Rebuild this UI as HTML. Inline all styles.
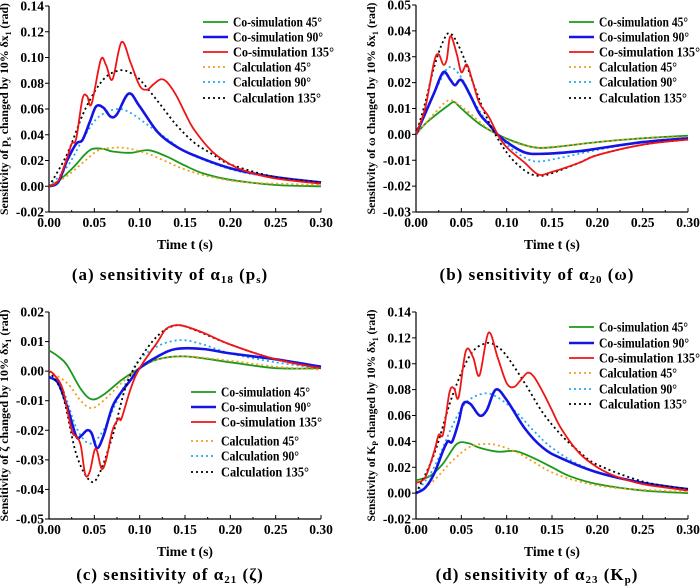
<!DOCTYPE html>
<html><head><meta charset="utf-8"><style>
body{margin:0;background:#fff;width:700px;height:588px;overflow:hidden}
svg{display:block;font-family:"Liberation Serif",serif;font-weight:bold}
</style></head><body>
<svg id="s" width="700" height="588" viewBox="0 0 700 588"></svg>
<script>
const S=document.getElementById('s');let out='';
const C={g:'#1a9a1a',o:'#f0a020',b:'#1414e6',c:'#28a8f0',r:'#f01414',k:'#000'};
function path(pts,X,Y){let p=pts.map(a=>[X(a[0]),Y(a[1])]);let d='M'+p[0][0].toFixed(1)+' '+p[0][1].toFixed(1);
for(let i=0;i<p.length-1;i++){const p0=p[i-1]||p[i],p1=p[i],p2=p[i+1],p3=p[i+2]||p2;
const c1=[p1[0]+(p2[0]-p0[0])/6,p1[1]+(p2[1]-p0[1])/6],c2=[p2[0]-(p3[0]-p1[0])/6,p2[1]-(p3[1]-p1[1])/6];
d+=`C${c1[0].toFixed(1)} ${c1[1].toFixed(1)} ${c2[0].toFixed(1)} ${c2[1].toFixed(1)} ${p2[0].toFixed(1)} ${p2[1].toFixed(1)}`;}return d;}
function panel(P){const {x0,x1,y0,y1,ymin,ymax,ystep}=P;
const X=t=>x0+(x1-x0)*t/0.3,Y=v=>y1-(y1-y0)*(v-ymin)/(ymax-ymin);
out+=`<line x1="${x0}" y1="${y0}" x2="${x0}" y2="${y1}" stroke="#000" stroke-width="1.2"/><line x1="${x0}" y1="${y1}" x2="${x1}" y2="${y1}" stroke="#000" stroke-width="1.2"/>`;
for(let v=ymin;v<=ymax+1e-9;v+=ystep){const y=Y(v);out+=`<line x1="${x0-4}" y1="${y}" x2="${x0}" y2="${y}" stroke="#000"/><text x="${x0-5}" y="${y+4.5}" font-size="13.5" text-anchor="end">${v.toFixed(2).replace('-0.00','0.00')}</text>`;}
for(let i=0;i<=12;i++){const x=X(i*0.025);out+=`<line x1="${x}" y1="${y1}" x2="${x}" y2="${y1-(i%2?2:4)}" stroke="#000"/>`;if(i%2==0)out+=`<text x="${x}" y="${y1+15}" font-size="13.5" text-anchor="middle">${(i*0.025).toFixed(2)}</text>`;}
out+=`<text x="${(x0+x1)/2}" y="${y1+37}" font-size="14" text-anchor="middle" textLength="56" lengthAdjust="spacingAndGlyphs">Time t (s)</text>`;
out+=`<text transform="translate(${x0-41},${(y0+y1)/2}) rotate(-90)" font-size="12" text-anchor="middle" textLength="212" lengthAdjust="spacingAndGlyphs">${P.yl}</text>`;
out+=`<text x="${P.cx}" y="${P.capy}" font-size="17" letter-spacing="1" text-anchor="middle">${P.cap}</text>`;
for(const [k,pts] of P.series){const dotted=(k=='o'||k=='c'||k=='k');
out+=`<path d="${path(pts,X,Y)}" fill="none" stroke="${C[k]}" stroke-width="${k=='b'?2.6:1.8}" ${dotted?'stroke-dasharray="2 3"':''}/>`;}
const names=[['g','Co-simulation 45°',89],['b','Co-simulation 90°',90],['r','Co-simulation 135°',101],['o','Calculation 45°',78],['c','Calculation 90°',78],['k','Calculation 135°',88]];
names.forEach((n,i)=>{const y=P.ly[i];const dt=n[0]=='o'||n[0]=='c'||n[0]=='k';
out+=`<line x1="${P.lx}" y1="${y}" x2="${P.lx+25}" y2="${y}" stroke="${C[n[0]]}" stroke-width="${n[0]=='b'?2.6:1.8}" ${dt?'stroke-dasharray="2 3"':''}/><text x="${P.lx+30}" y="${y+4.5}" font-size="14" textLength="${n[2]}" lengthAdjust="spacingAndGlyphs">${n[1]}</text>`;});}
const L1=[22,37,52,67,82,98];
panel({x0:49,x1:321,y0:6,y1:212,ymin:-0.02,ymax:0.14,ystep:0.02,lx:203,ly:L1,cx:170,capy:280,
yl:'Sensitivity of p<tspan font-size="8" dy="3">s</tspan><tspan dy="-3"> changed by 10%  δx</tspan><tspan font-size="8" dy="3">1</tspan><tspan dy="-3"> (rad)</tspan>',
cap:'(a) sensitivity of α<tspan font-size="11" dy="3">18</tspan><tspan dy="-3">  (p</tspan><tspan font-size="11" dy="3">s</tspan><tspan dy="-3">)</tspan>',
series:[['g',[[0,0],[0.01,0.004],[0.02,0.01],[0.03,0.017],[0.04,0.025],[0.048,0.029],[0.06,0.029],[0.07,0.027],[0.09,0.026],[0.11,0.028],[0.13,0.023],[0.15,0.016],[0.17,0.01],[0.2,0.005],[0.25,0.001],[0.3,0]]],
['o',[[0,0],[0.02,0.008],[0.04,0.02],[0.055,0.028],[0.075,0.030],[0.09,0.029],[0.11,0.025],[0.13,0.019],[0.15,0.013],[0.18,0.007],[0.22,0.003],[0.3,0.001]]],
['c',[[0,0],[0.02,0.015],[0.04,0.04],[0.055,0.054],[0.075,0.060],[0.09,0.057],[0.11,0.047],[0.13,0.037],[0.15,0.027],[0.18,0.018],[0.22,0.01],[0.3,0.002]]],
['b',[[0,0],[0.01,0.003],[0.02,0.02],[0.03,0.033],[0.037,0.036],[0.045,0.05],[0.052,0.062],[0.06,0.061],[0.068,0.054],[0.075,0.056],[0.088,0.072],[0.1,0.062],[0.12,0.042],[0.14,0.031],[0.16,0.024],[0.2,0.014],[0.25,0.007],[0.3,0.003]]],
['k',[[0,0],[0.02,0.025],[0.04,0.06],[0.06,0.083],[0.078,0.09],[0.09,0.088],[0.1,0.083],[0.12,0.066],[0.14,0.048],[0.16,0.034],[0.18,0.025],[0.2,0.017],[0.25,0.007],[0.3,0.003]]],
['r',[[0,0],[0.01,0.004],[0.02,0.022],[0.025,0.033],[0.03,0.037],[0.037,0.068],[0.042,0.07],[0.047,0.064],[0.057,0.098],[0.063,0.094],[0.07,0.083],[0.08,0.112],[0.09,0.096],[0.1,0.078],[0.108,0.075],[0.115,0.079],[0.123,0.083],[0.13,0.081],[0.14,0.071],[0.15,0.057],[0.16,0.044],[0.18,0.027],[0.2,0.017],[0.22,0.011],[0.25,0.006],[0.3,0.002]]]]});
panel({x0:416,x1:688,y0:5,y1:212,ymin:-0.03,ymax:0.05,ystep:0.01,lx:569,ly:L1,cx:537,capy:280,
yl:'Sensitivity of ω changed by 10%  δx<tspan font-size="8" dy="3">1</tspan><tspan dy="-3"> (rad)</tspan>',
cap:'(b) sensitivity of α<tspan font-size="11" dy="3">20</tspan><tspan dy="-3">  (ω)</tspan>',
series:[['g',[[0,0],[0.01,0.004],[0.02,0.007],[0.035,0.011],[0.042,0.0125],[0.05,0.01],[0.07,0.004],[0.09,0],[0.11,-0.003],[0.13,-0.005],[0.15,-0.005],[0.2,-0.003],[0.25,-0.0015],[0.3,-0.0005]]],
['o',[[0,0],[0.02,0.008],[0.035,0.013],[0.045,0.012],[0.06,0.008],[0.08,0.002],[0.1,-0.002],[0.13,-0.005],[0.16,-0.0045],[0.2,-0.003],[0.25,-0.0015],[0.3,-0.001]]],
['c',[[0,0],[0.015,0.012],[0.03,0.023],[0.038,0.026],[0.05,0.022],[0.065,0.012],[0.08,0.004],[0.1,-0.004],[0.12,-0.009],[0.135,-0.0105],[0.16,-0.009],[0.2,-0.006],[0.25,-0.003],[0.3,-0.0015]]],
['b',[[0,0],[0.01,0.008],[0.02,0.016],[0.03,0.024],[0.038,0.021],[0.043,0.019],[0.05,0.021],[0.06,0.015],[0.07,0.008],[0.08,0.004],[0.09,0],[0.1,-0.003],[0.12,-0.007],[0.14,-0.0075],[0.18,-0.0065],[0.2,-0.0055],[0.25,-0.003],[0.3,-0.0015]]],
['k',[[0,0],[0.01,0.012],[0.02,0.026],[0.03,0.036],[0.038,0.039],[0.05,0.032],[0.065,0.018],[0.08,0.005],[0.1,-0.007],[0.12,-0.014],[0.135,-0.016],[0.15,-0.015],[0.18,-0.011],[0.2,-0.008],[0.25,-0.004],[0.3,-0.002]]],
['r',[[0,0],[0.01,0.01],[0.02,0.028],[0.025,0.031],[0.03,0.027],[0.034,0.029],[0.038,0.038],[0.045,0.031],[0.05,0.024],[0.056,0.027],[0.062,0.021],[0.07,0.012],[0.08,0.007],[0.09,0],[0.1,-0.005],[0.12,-0.011],[0.135,-0.0155],[0.15,-0.0145],[0.18,-0.011],[0.2,-0.008],[0.25,-0.004],[0.3,-0.002]]]]});
panel({x0:49,x1:321,y0:312,y1:519,ymin:-0.05,ymax:0.02,ystep:0.01,lx:191,ly:[392,407,422,441,456,472],cx:170,capy:580,
yl:'Sensitivity of ζ changed by 10%  δx<tspan font-size="8" dy="3">1</tspan><tspan dy="-3"> (rad)</tspan>',
cap:'(c) sensitivity of α<tspan font-size="11" dy="3">21</tspan><tspan dy="-3">  (ζ)</tspan>',
series:[['g',[[0,0.007],[0.01,0.005],[0.02,0.002],[0.035,-0.006],[0.047,-0.0095],[0.06,-0.008],[0.08,-0.003],[0.1,0.001],[0.12,0.004],[0.15,0.005],[0.2,0.003],[0.25,0.001],[0.3,0.001]]],
['o',[[0,0],[0.02,-0.004],[0.035,-0.01],[0.047,-0.0125],[0.06,-0.01],[0.08,-0.004],[0.1,0.001],[0.12,0.004],[0.15,0.005],[0.2,0.0035],[0.25,0.0015],[0.3,0.0005]]],
['c',[[0,0],[0.015,-0.006],[0.03,-0.019],[0.045,-0.0245],[0.06,-0.02],[0.075,-0.01],[0.09,-0.001],[0.1,0.004],[0.12,0.0085],[0.145,0.0105],[0.17,0.009],[0.2,0.006],[0.25,0.003],[0.3,0.001]]],
['b',[[0,-0.002],[0.01,-0.004],[0.02,-0.012],[0.03,-0.022],[0.035,-0.022],[0.042,-0.02],[0.047,-0.021],[0.053,-0.026],[0.06,-0.022],[0.07,-0.012],[0.08,-0.007],[0.09,-0.003],[0.1,0.001],[0.12,0.005],[0.14,0.0075],[0.17,0.0075],[0.2,0.006],[0.25,0.004],[0.3,0.0015]]],
['k',[[0,0],[0.015,-0.008],[0.03,-0.028],[0.045,-0.037],[0.055,-0.035],[0.07,-0.022],[0.085,-0.005],[0.1,0.004],[0.12,0.012],[0.14,0.0155],[0.16,0.014],[0.2,0.009],[0.25,0.004],[0.3,0.001]]],
['r',[[0,0],[0.005,-0.001],[0.015,-0.006],[0.025,-0.02],[0.03,-0.022],[0.035,-0.025],[0.04,-0.035],[0.045,-0.034],[0.05,-0.027],[0.053,-0.027],[0.058,-0.033],[0.063,-0.03],[0.07,-0.02],[0.077,-0.016],[0.08,-0.016],[0.09,-0.006],[0.1,0.001],[0.12,0.01],[0.13,0.0145],[0.145,0.0155],[0.17,0.013],[0.2,0.009],[0.25,0.004],[0.3,0.001]]]]});
panel({x0:416,x1:688,y0:312,y1:519,ymin:-0.02,ymax:0.14,ystep:0.02,lx:569,ly:[327,343,358,373,389,404],cx:537,capy:580,
yl:'Sensitivity of K<tspan font-size="8" dy="3">P</tspan><tspan dy="-3"> changed by 10%  δx</tspan><tspan font-size="8" dy="3">1</tspan><tspan dy="-3"> (rad)</tspan>',
cap:'(d) sensitivity of α<tspan font-size="11" dy="3">23</tspan><tspan dy="-3">  (K</tspan><tspan font-size="11" dy="3">p</tspan><tspan dy="-3">)</tspan>',
series:[['g',[[0,0.01],[0.015,0.013],[0.03,0.023],[0.045,0.038],[0.058,0.0385],[0.07,0.035],[0.09,0.032],[0.11,0.0325],[0.13,0.027],[0.15,0.02],[0.17,0.013],[0.2,0.007],[0.25,0.002],[0.3,0]]],
['o',[[0,0],[0.02,0.01],[0.04,0.025],[0.06,0.036],[0.078,0.038],[0.09,0.037],[0.11,0.032],[0.13,0.024],[0.15,0.016],[0.18,0.009],[0.22,0.004],[0.3,0.001]]],
['c',[[0,0],[0.02,0.02],[0.04,0.052],[0.055,0.07],[0.075,0.077],[0.09,0.074],[0.11,0.063],[0.13,0.048],[0.15,0.035],[0.18,0.022],[0.22,0.012],[0.3,0.002]]],
['b',[[0,0],[0.01,0.004],[0.02,0.015],[0.03,0.033],[0.035,0.04],[0.04,0.04],[0.047,0.055],[0.052,0.069],[0.06,0.069],[0.07,0.06],[0.078,0.064],[0.088,0.08],[0.1,0.072],[0.12,0.05],[0.14,0.035],[0.16,0.027],[0.2,0.016],[0.25,0.008],[0.3,0.003]]],
['k',[[0,0],[0.02,0.03],[0.04,0.075],[0.06,0.107],[0.078,0.116],[0.09,0.113],[0.1,0.106],[0.12,0.085],[0.14,0.062],[0.16,0.045],[0.18,0.032],[0.2,0.022],[0.25,0.009],[0.3,0.003]]],
['r',[[0,0.008],[0.01,0.012],[0.02,0.032],[0.025,0.045],[0.03,0.046],[0.037,0.078],[0.042,0.081],[0.047,0.074],[0.055,0.11],[0.063,0.105],[0.07,0.091],[0.08,0.124],[0.09,0.105],[0.1,0.085],[0.108,0.082],[0.115,0.087],[0.123,0.093],[0.13,0.09],[0.14,0.078],[0.15,0.064],[0.16,0.05],[0.18,0.031],[0.2,0.02],[0.22,0.013],[0.25,0.007],[0.3,0.002]]]]});
S.innerHTML=out;
</script>
</body></html>
